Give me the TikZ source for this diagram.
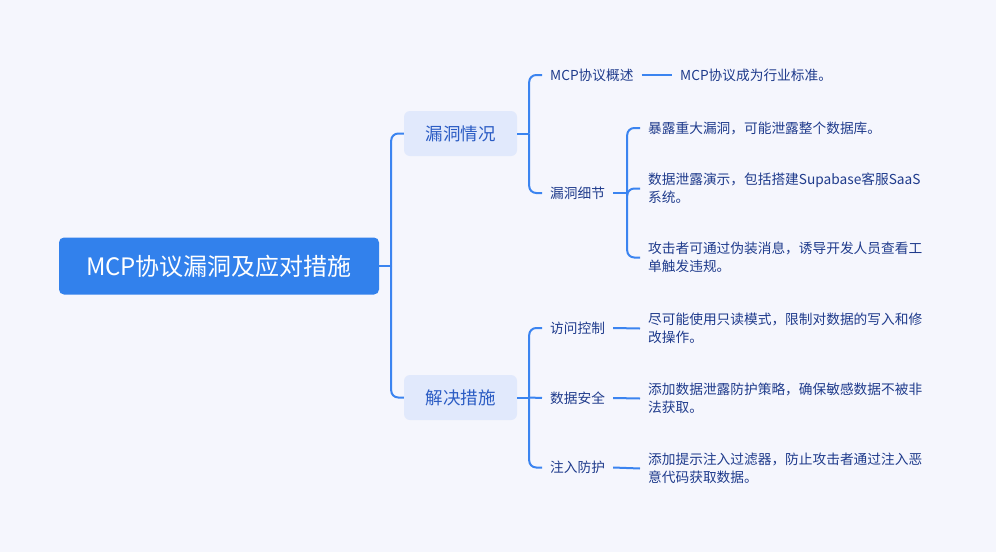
\documentclass[tikz,border=0pt]{standalone}
\usepackage{fontspec}
\setmainfont{Noto Sans CJK SC}
\definecolor{fondo}{HTML}{F5F6FD}
\definecolor{azul}{HTML}{3281EC}
\definecolor{celeste}{HTML}{E1E9FC}
\definecolor{tinta}{HTML}{1F3B8C}
\definecolor{tema}{HTML}{2B5CC4}
\definecolor{rama}{HTML}{3B84F0}
\begin{document}
\begin{tikzpicture}[x=1pt, y=-1pt,
		raiz/.style={fill=azul, rounded corners=5pt, minimum width=320pt, minimum height=57pt, text=white, font=\fontsize{24}{28}\selectfont},
		tema/.style={fill=celeste, rounded corners=6pt, minimum width=113pt, minimum height=45pt, text=tema, font=\fontsize{17.5}{21}\selectfont},
		sub/.style={anchor=west, inner xsep=8pt, inner ysep=2pt, text=tinta, font=\fontsize{13.7}{18}\selectfont},
		hoja/.style={anchor=west, inner xsep=8pt, inner ysep=2pt, align=left, text=tinta, font=\fontsize{13.7}{18}\selectfont},
		enlace/.style={draw=rama, line width=2pt},
		curva/.style={enlace, rounded corners=7pt}]
	\fill[fondo] (0,0) rectangle (996,552);
	\useasboundingbox (0,0) rectangle (996,552);
	\node[raiz] (r) at (219,266) {MCP协议漏洞及应对措施};
	\node[tema] (v) at (460.5,133.5) {漏洞情况};
	\node[tema] (s) at (460.5,397.5) {解决措施};

	\node[sub] (v1) at (542,75) {MCP协议概述};
	\node[sub] (v2) at (542,193) {漏洞细节};
	\node[hoja] (h0) at (672,75) {MCP协议成为行业标准。};
	\node[hoja] (h1) at (640,128) {暴露重大漏洞，可能泄露整个数据库。};
	\node[hoja] (h2) at (640,188.5) {数据泄露演示，包括搭建Supabase客服SaaS\\系统。};
	\node[hoja] (h3) at (640,257.5) {攻击者可通过伪装消息，诱导开发人员查看工\\单触发违规。};

	\node[sub] (s1) at (542,328) {访问控制};
	\node[sub] (s2) at (542,398) {数据安全};
	\node[sub] (s3) at (542,467.5) {注入防护};
	\node[hoja] (k1) at (640,328.5) {尽可能使用只读模式，限制对数据的写入和修\\改操作。};
	\node[hoja] (k2) at (640,398.5) {添加数据泄露防护策略，确保敏感数据不被非\\法获取。};
	\node[hoja] (k3) at (640,468.5) {添加提示注入过滤器，防止攻击者通过注入恶\\意代码获取数据。};

	% troncos y ramas
	\draw[enlace] (r.east) -- ++(12,0) coordinate (jr);
	\draw[enlace] (v.east) -- ++(12,0) coordinate (jv);
	\draw[enlace] (v2.east) -- ++(14,0) coordinate (jd);
	\draw[enlace] (s.east) -- ++(12,0) coordinate (js);
	\draw[curva] (jr) |- (v.west);
	\draw[curva] (jr) |- (s.west);
	\draw[curva] (jv) |- (v1.west);
	\draw[curva] (jv) |- (v2.west);
	\foreach \h in {h1,h2,h3}
		\draw[curva] (jd) |- (\h.west);
	\foreach \a in {s1,s3}
		\draw[curva] (js) |- (\a.west);
	\draw[enlace] (js) -- (s2.west);
	\draw[enlace] (v1.east) -- (h0.west);
	\draw[enlace] (s1.east) -- (k1.west);
	\draw[enlace] (s2.east) -- (k2.west);
	\draw[enlace] (s3.east) -- (k3.west);
\end{tikzpicture}
\end{document}
